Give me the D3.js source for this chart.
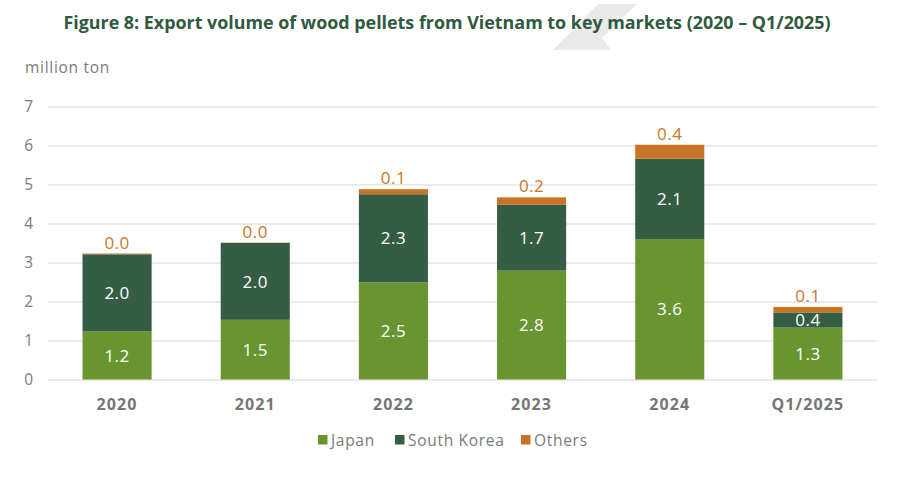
<!DOCTYPE html>
<html>
<head>
<meta charset="utf-8">
<script src="https://cdn.jsdelivr.net/npm/d3@7"></script>
<style>
  body { margin: 0; background: #fff; }
  text { font-family: "Open Sans", Lato, sans-serif; }
</style>
</head>
<body>
<div id="container"></div>
<script>
/* DATA */
const categories = ["2020", "2021", "2022", "2023", "2024", "Q1/2025"];
const japan = [1.23, 1.53, 2.49, 2.79, 3.6, 1.33];
const southKorea = [1.98, 1.97, 2.26, 1.69, 2.06, 0.39];
const others = [0.02, 0.01, 0.13, 0.19, 0.36, 0.14];
const seriesNames = ["Japan", "South Korea", "Others"];
const yTicks = [0, 1, 2, 3, 4, 5, 6, 7];

/* CONSTANTS */
const width = 914, height = 482;
const margin = { top: 106.5, bottom: 102.5, left: 48, right: 37 };
const colors = { "Japan": "#699530", "South Korea": "#355d44", "Others": "#c87426" };
const grayText = "#7b7b7b";

const svg = d3.select("#container")
  .append("svg")
  .attr("width", width)
  .attr("height", height);

// watermark behind title
svg.append("path")
  .attr("d", "M598,4 L637,4 L602,38 L611,50 L553,50 Z")
  .attr("fill", "#e9e9e9");

// TITLE - fit to the reference width (63 → 831)
const title = svg.append("text")
  .attr("x", 447)
  .attr("y", 29)
  .attr("text-anchor", "middle")
  .attr("font-size", 16)
  .attr("font-weight", 700)
  .attr("fill", "#2f5a3e")
  .text("Figure 8: Export volume of wood pellets from Vietnam to key markets (2020 \u2013 Q1/2025)");
const tw = title.node().getComputedTextLength();
title.attr("font-size", 16 * 768 / tw);

svg.append("text")
  .attr("x", 25)
  .attr("y", 73)
  .attr("font-size", 15.5)
  .attr("letter-spacing", 0.7)
  .attr("fill", grayText)
  .text("million ton");

// SCALES
const x = d3.scaleBand()
  .domain(categories)
  .range([margin.left, width - margin.right])
  .paddingInner(0.5)
  .paddingOuter(0.25);

const y = d3.scaleLinear()
  .domain([0, 7])
  .range([height - margin.bottom, margin.top]);

// GRIDLINES + Y LABELS
const yAxis = d3.axisLeft(y)
  .tickValues(yTicks)
  .tickSize(-(width - margin.left - margin.right))
  .tickFormat(d3.format("d"))
  .tickPadding(15);

const gy = svg.append("g")
  .attr("transform", `translate(${margin.left},0)`)
  .call(yAxis);
gy.select(".domain").remove();
gy.selectAll(".tick line").attr("stroke", "#e3e3e3").attr("stroke-width", 1.5);
gy.selectAll(".tick text")
  .attr("font-size", 15.5)
  .attr("fill", grayText)
  .attr("font-family", "'Open Sans', sans-serif");

// STACK
const table = categories.map((c, i) => ({
  category: c,
  "Japan": japan[i],
  "South Korea": southKorea[i],
  "Others": others[i]
}));
const stacked = d3.stack().keys(seriesNames)(table);

const layers = svg.append("g")
  .selectAll("g")
  .data(stacked)
  .join("g")
  .attr("fill", d => colors[d.key]);

layers.selectAll("rect")
  .data(d => d)
  .join("rect")
  .attr("x", d => x(d.data.category))
  .attr("width", x.bandwidth())
  .attr("y", d => y(d[1]))
  .attr("height", d => y(d[0]) - y(d[1]));

// VALUE LABELS inside (Japan, South Korea)
stacked.slice(0, 2).forEach(layer => {
  svg.append("g")
    .selectAll("text")
    .data(layer)
    .join("text")
    .attr("x", d => x(d.data.category) + x.bandwidth() / 2)
    .attr("y", d => (y(d[0]) + y(d[1])) / 2)
    .attr("dy", "0.36em")
    .attr("text-anchor", "middle")
    .attr("font-size", 17)
    .attr("letter-spacing", 0.5)
    .attr("fill", "#ffffff")
    .text(d => (d[1] - d[0]).toFixed(1));
});

// OTHERS LABELS above bars
svg.append("g")
  .selectAll("text")
  .data(stacked[2])
  .join("text")
  .attr("x", d => x(d.data.category) + x.bandwidth() / 2)
  .attr("y", d => y(d[1]) - 5)
  .attr("text-anchor", "middle")
  .attr("font-size", 17)
  .attr("letter-spacing", 0.5)
  .attr("fill", "#c8772a")
  .text(d => (d[1] - d[0]).toFixed(1));

// X LABELS
svg.append("g")
  .selectAll("text")
  .data(categories)
  .join("text")
  .attr("x", d => x(d) + x.bandwidth() / 2)
  .attr("y", 410)
  .attr("text-anchor", "middle")
  .attr("font-size", 16)
  .attr("font-weight", 700)
  .attr("letter-spacing", 1.1)
  .attr("fill", "#757575")
  .text(d => d);

// LEGEND
const legendX = [318, 395, 521];
const legend = svg.append("g")
  .selectAll("g")
  .data(seriesNames)
  .join("g")
  .attr("transform", (d, i) => `translate(${legendX[i]},435)`);
legend.append("rect")
  .attr("width", 9.5)
  .attr("height", 9.5)
  .attr("fill", d => colors[d]);
legend.append("text")
  .attr("x", 13)
  .attr("y", 10.5)
  .attr("font-size", 15.5)
  .attr("letter-spacing", 0.7)
  .attr("fill", grayText)
  .text(d => d);
</script>
</body>
</html>
